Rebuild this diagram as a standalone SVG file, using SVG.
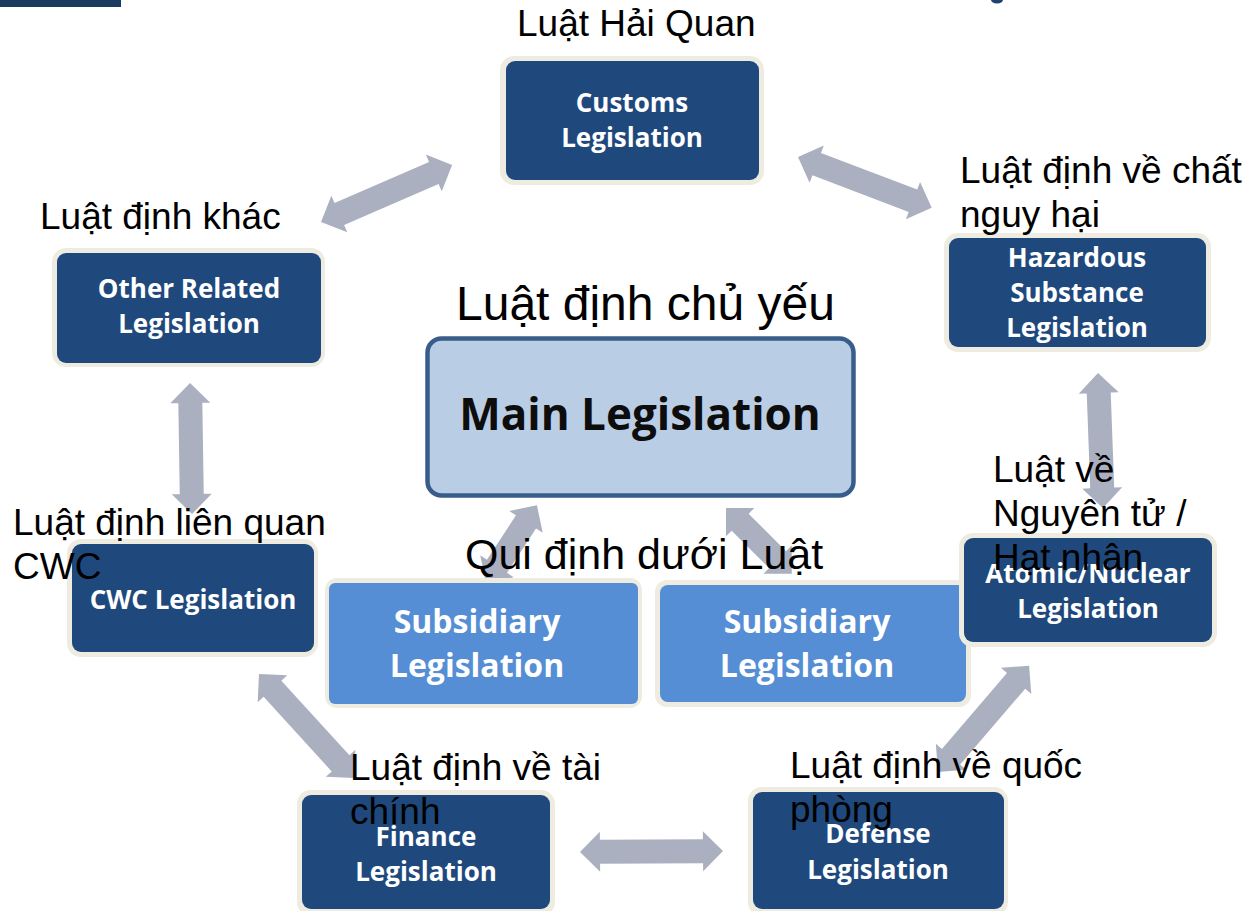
<svg xmlns="http://www.w3.org/2000/svg" width="1250" height="911" viewBox="0 0 1250 911">
<style>
.arr{fill:#aab0c0}
.frame{fill:#eeece1}
.dark{fill:#1f497d}
.sub{fill:#558ed5}
.nt{font-family:"Open Sans","DejaVu Sans",sans-serif;font-weight:bold;font-size:26px;fill:#ffffff;text-anchor:middle}
.st{font-family:"Open Sans","DejaVu Sans",sans-serif;font-weight:bold;font-size:32px;fill:#ffffff;text-anchor:middle}
.mt{font-family:"Open Sans","DejaVu Sans",sans-serif;font-weight:bold;font-size:44px;fill:#0d0d0d;text-anchor:middle}
.lb{font-family:"Liberation Sans",Arial,sans-serif;font-size:37px;fill:#000000}
</style>
<rect width="1250" height="911" fill="#ffffff"/>
<rect x="0" y="0" width="121" height="7" fill="#1b3a60"/>
<ellipse cx="997" cy="0" rx="6" ry="3.5" fill="#1f4270"/>
<g id="connectors">
<polygon class="arr" transform="translate(321,222) rotate(-23.5)" points="0,0 20,-20 20,-12 123,-12 123,-20 143,0 123,20 123,12 20,12 20,20"/>
<polygon class="arr" transform="translate(798,157) rotate(20.8)" points="0,0 20,-20 20,-12 123,-12 123,-20 143,0 123,20 123,12 20,12 20,20"/>
<polygon class="arr" transform="translate(190,383) rotate(89.1)" points="0,0 20,-20 20,-12 111,-12 111,-20 131,0 111,20 111,12 20,12 20,20"/>
<polygon class="arr" transform="translate(1098,373) rotate(87.9)" points="0,0 20,-20 20,-12 115,-12 115,-20 135,0 115,20 115,12 20,12 20,20"/>
<polygon class="arr" transform="translate(259,674) rotate(47.6)" points="0,0 20,-20 20,-12 121,-12 121,-20 141,0 121,20 121,12 20,12 20,20"/>
<polygon class="arr" transform="translate(580,852) rotate(-0.4)" points="0,0 20,-20 20,-12 123,-12 123,-20 143,0 123,20 123,12 20,12 20,20"/>
<polygon class="arr" transform="translate(938,772) rotate(-49.4)" points="0,0 20,-20 20,-12 120,-12 120,-20 140,0 120,20 120,12 20,12 20,20"/>
<polygon class="arr" transform="translate(486,583) rotate(-56.8)" points="0,0 20,-20 20,-12 73,-12 73,-20 93,0 73,20 73,12 20,12 20,20"/>
<polygon class="arr" transform="translate(726,508) rotate(45)" points="0,0 20,-20 20,-12 73,-12 73,-20 93,0 73,20 73,12 20,12 20,20"/>
</g>
<g id="customs">
<rect class="frame" x="500" y="56" width="264" height="129" rx="14"/>
<rect class="dark" x="506" y="61" width="253" height="119" rx="9"/>
<text class="nt" x="632" y="112">Customs</text>
<text class="nt" x="632" y="147">Legislation</text>
</g>
<g id="other">
<rect class="frame" x="52" y="248" width="273" height="119" rx="14"/>
<rect class="dark" x="57" y="253" width="264" height="110" rx="9"/>
<text class="nt" x="189" y="298">Other Related</text>
<text class="nt" x="189" y="333">Legislation</text>
</g>
<g id="hazardous">
<rect class="frame" x="944" y="233" width="267" height="119" rx="14"/>
<rect class="dark" x="949" y="238" width="257" height="109" rx="9"/>
<text class="nt" x="1077" y="267">Hazardous</text>
<text class="nt" x="1077" y="302">Substance</text>
<text class="nt" x="1077" y="337">Legislation</text>
</g>
<g id="main">
<rect x="427.5" y="338.5" width="426" height="157" rx="14" fill="#b9cde5" stroke="#385d8a" stroke-width="4.5"/>
<text class="mt" x="640" y="430">Main Legislation</text>
</g>
<g id="subsidiary-left">
<rect class="frame" x="325" y="578" width="317" height="130" rx="12"/>
<rect class="sub" x="329" y="583" width="309" height="121" rx="6"/>
<text class="st" x="477" y="633">Subsidiary</text>
<text class="st" x="477" y="677">Legislation</text>
</g>
<g id="subsidiary-right">
<rect class="frame" x="655" y="580" width="316" height="127" rx="12"/>
<rect class="sub" x="660" y="585" width="306" height="117" rx="8"/>
<text class="st" x="807" y="633">Subsidiary</text>
<text class="st" x="807" y="677">Legislation</text>
</g>
<g id="cwc">
<rect class="frame" x="67" y="539" width="251" height="118" rx="14"/>
<rect class="dark" x="72" y="544" width="242" height="108" rx="9"/>
<text class="nt" x="193" y="609">CWC Legislation</text>
</g>
<g id="atomic">
<rect class="frame" x="959" y="533" width="258" height="114" rx="14"/>
<rect class="dark" x="964" y="538" width="248" height="104" rx="9"/>
<text class="nt" x="1088" y="583">Atomic/Nuclear</text>
<text class="nt" x="1088" y="618">Legislation</text>
</g>
<g id="finance">
<rect class="frame" x="297" y="790" width="258" height="126" rx="14"/>
<rect class="dark" x="302" y="795" width="248" height="114" rx="9"/>
<text class="nt" x="426" y="846">Finance</text>
<text class="nt" x="426" y="881">Legislation</text>
</g>
<g id="defense">
<rect class="frame" x="748" y="787" width="260" height="129" rx="14"/>
<rect class="dark" x="753" y="792" width="251" height="117" rx="9"/>
<text class="nt" x="878" y="843">Defense</text>
<text class="nt" x="878" y="879">Legislation</text>
</g>
<g id="labels">
<text class="lb" x="517" y="36">Luật Hải Quan</text>
<text class="lb" x="40" y="229">Luật định khác</text>
<text class="lb" x="960" y="183">Luật định về chất</text>
<text class="lb" x="960" y="227">nguy hại</text>
<text class="lb" x="456" y="320" style="font-size:48px">Luật định chủ yếu</text>
<text class="lb" x="993" y="482">Luật về</text>
<text class="lb" x="993" y="526">Nguyên tử /</text>
<text class="lb" x="993" y="570">Hạt nhân</text>
<text class="lb" x="13" y="535">Luật định liên quan</text>
<text class="lb" x="13" y="579">CWC</text>
<text class="lb" x="465" y="569" style="font-size:43px">Qui định dưới Luật</text>
<text class="lb" x="350" y="780">Luật định về tài</text>
<text class="lb" x="350" y="824">chính</text>
<text class="lb" x="790" y="778">Luật định về quốc</text>
<text class="lb" x="790" y="822">phòng</text>
</g>
</svg>
